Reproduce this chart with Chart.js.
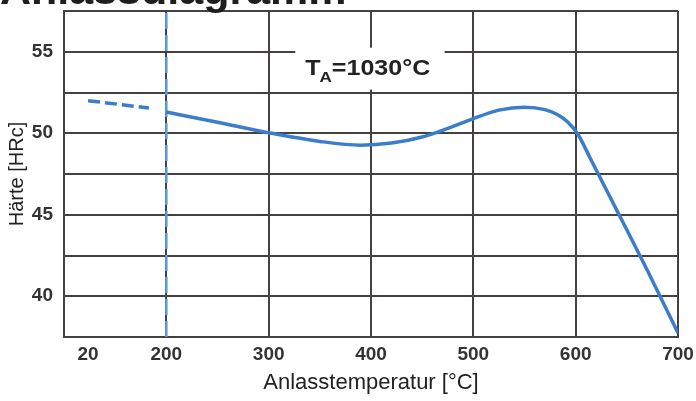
<!DOCTYPE html>
<html>
<head>
<meta charset="utf-8">
<script src="https://cdn.jsdelivr.net/npm/chart.js@4"></script>
<style>
  html, body { margin: 0; padding: 0; background: #fff; }
  #wrap { width: 696px; height: 401px; }
</style>
</head>
<body>
<div id="wrap"><canvas id="anlassChart" width="696" height="401"></canvas></div>
<script>
// Anlassdiagramm, T_A = 1030 °C
const curveTemps = [200, 250, 300, 350, 390, 420, 450, 475, 500, 525, 550, 570, 582, 592, 602, 614, 640, 670, 700];
const curveHardness = [51.3, 50.68, 50.03, 49.5, 49.27, 49.4, 49.77, 50.3, 50.9, 51.42, 51.6, 51.45, 51.15, 50.7, 49.95, 48.5, 45.3, 41.6, 37.75];

const dashTemps = [20, 160];
const dashHardness = [52.0, 51.55];

const markerTemp = 200;
const xTickLabels = [20, 200, 300, 400, 500, 600, 700];
const yTickLabels = [40, 45, 50, 55];

const hardnessMin = 37.5;
const hardnessMax = 57.5;

// broken axis: 20..200 squeezed into the first section
function axisX(t) {
  return t >= 200 ? t : 123.5 + (t - 20) * (200 - 123.5) / 180;
}

const gridColor = "#464141";
const blue = "#3b7dcb";
const font = "'Liberation Sans', Arial, sans-serif";

const toPoints = (xs, ys) => xs.map((t, i) => ({ x: axisX(t), y: ys[i] }));

const overlay = {
  id: "overlay",
  afterDatasetsDraw(chart) {
    const ctx = chart.ctx;
    const xs = chart.scales.x, ys = chart.scales.y;
    // label box
    const x0 = xs.getPixelForValue(326), x1 = xs.getPixelForValue(472);
    const y0 = ys.getPixelForValue(55.25), y1 = ys.getPixelForValue(52.68);
    ctx.save();
    ctx.fillStyle = "#fff";
    ctx.fillRect(x0, y0, x1 - x0, y1 - y0);
    ctx.fillStyle = "#222";
    ctx.textBaseline = "alphabetic";
    const base = ys.getPixelForValue(53.57);
    // text in the source is a bit wider than the font
    ctx.translate(x0 + 10, base);
    ctx.scale(1.14, 1);
    let cx = 0;
    ctx.font = "bold 22px " + font;
    ctx.fillText("T", cx, 0);
    cx += ctx.measureText("T").width - 1;
    ctx.font = "bold 15px " + font;
    ctx.fillText("A", cx, 7);
    cx += ctx.measureText("A").width;
    ctx.font = "bold 22px " + font;
    ctx.fillText("=1030°C", cx, 0);
    ctx.restore();
  },
  afterDraw(chart) {
    const ctx = chart.ctx;
    ctx.save();
    ctx.fillStyle = "#1e1e1e";
    ctx.font = "bold 43px " + font;
    ctx.textBaseline = "alphabetic";
    ctx.fillText("Anlassdiagramm", 0, 4);
    ctx.restore();
  }
};

new Chart(document.getElementById("anlassChart").getContext("2d"), {
  type: "line",
  data: {
    datasets: [
      {
        data: toPoints(curveTemps, curveHardness),
        borderColor: blue,
        borderWidth: 3.5,
        pointRadius: 0,
        cubicInterpolationMode: "monotone"
      },
      {
        data: toPoints(dashTemps, dashHardness),
        borderColor: blue,
        borderWidth: 3.5,
        borderDash: [12, 5],
        pointRadius: 0
      },
      {
        data: [{ x: axisX(markerTemp), y: hardnessMin }, { x: axisX(markerTemp), y: hardnessMax }],
        borderColor: "#5a9ae0",
        borderWidth: 2.5,
        borderDash: [16, 6],
        pointRadius: 0
      }
    ]
  },
  options: {
    responsive: false,
    animation: false,
    layout: { padding: { top: 11, right: 18, left: 0, bottom: 0 } },
    plugins: { legend: { display: false }, tooltip: { enabled: false } },
    scales: {
      x: {
        type: "linear",
        min: 100,
        max: 700,
        afterBuildTicks: (scale) => {
          scale.ticks = xTickLabels.map(t => ({ value: axisX(t) }));
        },
        afterFit: (scale) => {
          scale.height = 64;
          scale.paddingLeft = 0;
          scale.paddingRight = 0;
        },
        ticks: {
          autoSkip: false,
          maxRotation: 0,
          padding: 6,
          color: "#333",
          font: { family: font, size: 19, weight: "bold" },
          callback: (v, i) => String(xTickLabels[i])
        },
        grid: {
          drawTicks: false,
          lineWidth: 2,
          color: (c) => (c.index === 0 ? "rgba(0,0,0,0)" : gridColor)
        },
        border: { display: true, color: gridColor, width: 2 },
        title: {
          display: true,
          text: "Anlasstemperatur [°C]",
          color: "#222",
          padding: { top: 0, bottom: 5 },
          font: { family: font, size: 22 }
        }
      },
      y: {
        min: hardnessMin,
        max: hardnessMax,
        afterBuildTicks: (scale) => {
          const ticks = [];
          for (let v = hardnessMin; v <= hardnessMax + 0.01; v += 2.5) ticks.push({ value: v });
          scale.ticks = ticks;
        },
        afterFit: (scale) => {
          scale.width = 64;
          scale.paddingTop = 0;
          scale.paddingBottom = 0;
        },
        ticks: {
          padding: 11,
          color: "#333",
          font: { family: font, size: 19, weight: "bold" },
          callback: (v) => (yTickLabels.includes(v) ? String(v) : "")
        },
        grid: { drawTicks: false, lineWidth: 2, color: gridColor },
        border: { display: true, color: gridColor, width: 2 },
        title: {
          display: true,
          text: "Härte [HRc]",
          color: "#222",
          padding: { top: 5, bottom: 0 },
          font: { family: font, size: 20 }
        }
      }
    }
  },
  plugins: [overlay]
});
</script>
</body>
</html>
